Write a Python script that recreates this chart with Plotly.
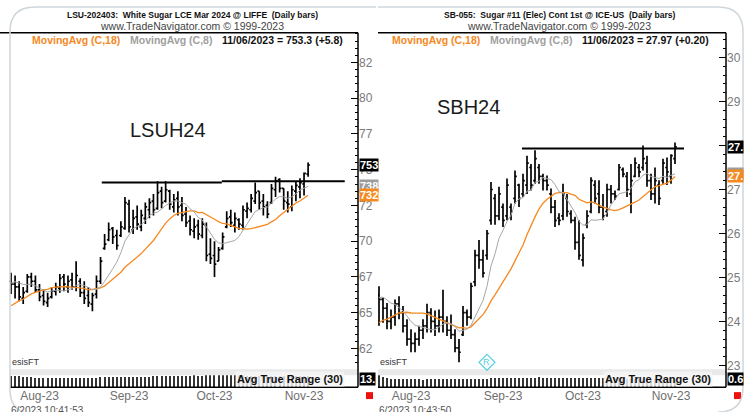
import numpy as np
import pandas as pd
import plotly.graph_objects as go

W, H = 751, 412
FONT = "Arial, 'Liberation Sans', sans-serif"
ORANGE = "#F5891F"
GRAYMA = "#A6A6A6"


def px(x):
    return x / W


def py(y):
    return 1 - y / H


# ---------------- LSU-202403 White Sugar (left panel) ----------------
lsu_dates = [d.strftime("%Y-%m-%d") for d in pd.bdate_range("2023-07-25", "2023-11-06")
             if d.strftime("%Y-%m-%d") not in ("2023-08-28",)]
lsu_open = [672, 670, 668, 660, 665, 675, 672, 666, 662, 657, 661, 665, 667, 675, 668, 673, 668, 672, 664, 662,
            656, 663, 672, 695, 701, 709, 704, 704, 709, 726, 708, 717, 710, 716, 722, 728, 723, 735, 728, 735,
            724, 730, 725, 719, 714, 707, 711, 704, 711, 691, 690, 686, 695, 710, 717, 711, 715, 711, 721, 722,
            728, 735, 728, 725, 727, 736, 743, 737, 727, 724, 735, 738, 740, 747]
lsu_high = [678, 676, 672, 668, 677, 678, 676, 670, 666, 664, 668, 671, 677, 677, 676, 678, 686, 674, 672, 668,
            664, 676, 689, 705, 713, 710, 708, 714, 731, 729, 722, 725, 722, 727, 730, 733, 742, 738, 742, 736,
            733, 735, 731, 724, 718, 716, 715, 716, 713, 702, 700, 696, 706, 721, 722, 720, 716, 725, 727, 733,
            741, 735, 733, 728, 740, 745, 744, 737, 735, 739, 742, 744, 748, 755]
lsu_low = [663, 660, 658, 656, 664, 668, 664, 658, 655, 654, 660, 662, 664, 665, 664, 666, 665, 661, 656, 654,
           651, 660, 670, 694, 700, 698, 694, 703, 708, 706, 705, 708, 707, 712, 716, 718, 722, 723, 727, 722,
           720, 718, 714, 710, 704, 702, 701, 702, 686, 684, 675, 686, 694, 709, 710, 706, 708, 708, 716, 720,
           726, 722, 718, 716, 726, 731, 734, 722, 720, 721, 728, 730, 732, 745]
lsu_close = [670, 668, 661, 664, 675, 672, 666, 661, 658, 660, 665, 668, 674, 670, 672, 668, 676, 664, 660, 657,
             662, 672, 686, 698, 708, 703, 697, 710, 727, 710, 716, 712, 718, 724, 727, 722, 734, 727, 736, 726,
             729, 724, 718, 713, 708, 710, 705, 712, 690, 688, 684, 694, 703, 716, 713, 716, 712, 722, 723, 730,
             734, 727, 724, 719, 737, 742, 737, 728, 726, 736, 739, 741, 747.5, 753.3]
lsu_prior_close = [632, 636, 640, 638, 644, 646, 642, 648, 652, 644, 660, 668, 672, 675, 670, 676, 674]
lsu_resist = [741.0, 741.9]
lsu_tickvals = [625, 650, 675, 700, 725, 750, 775, 800, 825]
lsu_ticktext = ["62", "65", "67", "70", "72", "75", "77", "80", "82"]
lsu_atr_label = "13."

# ---------------- SB-055 Sugar #11 (right panel) ----------------
sb_dates = [d.strftime("%Y-%m-%d") for d in pd.bdate_range("2023-07-24", "2023-11-06")
            if d.strftime("%Y-%m-%d") not in ("2023-09-04",)]
sb_open = [24.6, 24.5, 24.3, 24.0, 24.1, 24.4, 24.2, 23.9, 23.6, 23.5, 23.6, 23.8, 23.9, 24.2, 24.0, 23.9, 24.1,
           24.0, 23.8, 23.7, 23.4, 23.7, 24.2, 24.1, 24.9, 25.5, 25.4, 25.5, 26.3, 26.8, 26.4, 26.6, 26.4, 26.6,
           26.8, 27.1, 26.9, 27.1, 27.5, 27.2, 27.5, 27.3, 27.2, 26.9, 26.6, 26.35, 26.4, 26.8, 26.45, 26.3, 25.8,
           25.4, 26.2, 26.5, 27.1, 26.9, 26.6, 26.5, 27.0, 26.9, 27.0, 27.45, 27.3, 26.9, 27.3, 27.5, 27.5, 27.6,
           27.2, 26.9, 27.1, 27.2, 27.5, 27.3, 27.7]
sb_high = [24.8, 24.54, 24.42, 24.27, 24.5, 24.57, 24.35, 24.05, 23.82, 23.75, 23.9, 24.05, 24.4, 24.3, 24.25,
           24.27, 24.72, 24.12, 24.16, 23.82, 23.6, 24.35, 24.27, 24.88, 25.63, 25.85, 25.63, 26.08, 27.17, 26.9,
           27.06, 26.68, 27.25, 26.68, 27.43, 27.13, 27.36, 27.77, 27.58, 27.89, 27.58, 27.36, 27.32, 27.02, 26.76,
           26.46, 27.13, 26.9, 26.53, 26.38, 26.3, 26.0, 26.53, 27.28, 27.21, 27.21, 26.9, 27.13, 27.1, 26.98,
           27.58, 27.5, 27.4, 27.58, 27.73, 27.58, 28.0, 27.77, 27.36, 27.5, 27.21, 27.7, 27.73, 27.8, 28.07]
sb_low = [23.9, 23.97, 23.82, 23.82, 23.9, 24.05, 23.75, 23.45, 23.3, 23.3, 23.45, 23.6, 23.75, 23.75, 23.67,
          23.75, 23.75, 23.67, 23.6, 23.3, 23.07, 23.67, 23.9, 24.05, 24.8, 25.2, 25.0, 25.4, 26.2, 26.2, 26.3,
          26.15, 26.3, 26.3, 26.68, 26.6, 26.83, 26.9, 26.98, 27.13, 27.13, 26.98, 26.98, 26.46, 26.15, 26.19,
          26.3, 26.38, 26.23, 25.63, 25.4, 25.25, 26.12, 26.46, 26.68, 26.46, 26.3, 26.38, 26.68, 26.76, 26.98,
          27.28, 26.83, 26.46, 27.28, 27.28, 27.43, 27.06, 26.76, 26.68, 26.65, 27.13, 27.1, 27.13, 27.58]
sb_close = [24.5, 24.3, 24.0, 24.1, 24.4, 24.2, 23.9, 23.6, 23.5, 23.6, 23.8, 23.9, 24.2, 24.0, 23.9, 24.1, 24.0,
            23.8, 23.7, 23.4, 23.3, 24.2, 24.1, 24.8, 25.5, 25.4, 25.1, 26.0, 27.0, 26.4, 26.9, 26.3, 27.1, 26.5,
            27.3, 26.8, 27.2, 27.6, 27.1, 27.7, 27.3, 27.2, 27.1, 26.6, 26.3, 26.3, 26.9, 26.5, 26.3, 25.8, 25.5,
            25.9, 26.4, 27.2, 26.8, 26.6, 26.4, 27.0, 26.9, 26.85, 27.5, 27.35, 27.0, 27.2, 27.6, 27.4, 27.7, 27.2,
            26.9, 27.2, 26.8, 27.6, 27.4, 27.77, 27.97]
sb_prior_close = [23.3, 23.5, 23.2, 23.6, 23.4, 23.7, 23.5, 23.8, 23.6, 23.54, 24.2, 24.5, 24.7, 24.6, 24.8,
                  24.5, 24.52]
sb_resist = [27.93]
sb_tickvals = [23, 24, 25, 26, 27, 28, 29, 30]
sb_ticktext = ["23", "24", "25", "26", "27", "28", "29", "30"]
sb_atr_label = "0.6"


def moving_avg(prior, close, n):
    s = pd.Series(list(prior) + list(close)).rolling(n).mean().values
    return s[len(prior):]


def avg_true_range(h, l, c, n=30):
    h, l, c = np.asarray(h, float), np.asarray(l, float), np.asarray(c, float)
    pc = np.r_[c[0], c[:-1]]
    tr = np.maximum(h - l, np.maximum(np.abs(h - pc), np.abs(l - pc)))
    return pd.Series(tr).rolling(n, min_periods=1).mean().values


def month_ticks(dates):
    vals, txt = [], []
    prev = None
    for i, d in enumerate(dates):
        m = d[:7]
        if m != prev and prev is not None:
            vals.append(i + 2)
            txt.append(pd.Timestamp(d).strftime("%b-%y"))
        prev = m
    return vals, txt


fig = go.Figure()
annotations = []
shapes = []


def line_shape(x0, y0, x1, y1, color="black", width=1.5):
    shapes.append(dict(type="line", xref="paper", yref="paper", x0=px(x0), y0=py(y0), x1=px(x1), y1=py(y1),
                       line=dict(color=color, width=width)))


def text(x, y, s, size=10, color="#222", bold=False, xanchor="center", yanchor="middle", **kw):
    if bold:
        s = "<b>" + s + "</b>"
    annotations.append(dict(x=px(x), y=py(y), xref="paper", yref="paper", text=s, showarrow=False,
                            xanchor=xanchor, yanchor=yanchor, font=dict(size=size, color=color, family=FONT), **kw))


panels = [
    dict(name="LSU", dates=lsu_dates, o=lsu_open, h=lsu_high, l=lsu_low, c=lsu_close, prior=lsu_prior_close,
         xa="x", ya="y", xa2="x2", ya2="y2", left=0, left_inner=10, right=358, x0px=11, step=4.07,
         yr=(610.4, 845.8), tv=lsu_tickvals, tt=lsu_ticktext, minor=5, resist=lsu_resist,
         resist_x=[(22.3, 51.8), (51.8, 82.0)], atr_label=lsu_atr_label,
         title="LSU-202403:  White Sugar LCE Mar 2024 @ LIFFE  (Daily bars)", tcx=192,
         big="LSUH24", bigx=168, bigy=131, legx=(30, 128, 220), fmt="{:.1f}", chg="{:+.1f}"),
    dict(name="SB", dates=sb_dates, o=sb_open, h=sb_high, l=sb_low, c=sb_close, prior=sb_prior_close,
         xa="x3", ya="y3", xa2="x4", ya2="y4", left=378, left_inner=378, right=726, x0px=379, step=4.0,
         yr=(22.912, 30.564), tv=sb_tickvals, tt=sb_ticktext, minor=0.2, resist=sb_resist,
         resist_x=[(35.75, 76.25)], atr_label=sb_atr_label,
         title="SB-055:  Sugar #11 (Elec) Cont 1st @ ICE-US  (Daily bars)", tcx=559,
         big="SBH24", bigx=468, bigy=108, legx=(390, 488, 580), fmt="{:.2f}", chg="{:+.2f}"),
]

layout_axes = {}
for k, p in enumerate(panels):
    n = len(p["c"])
    assert len(p["dates"]) == n == len(p["o"]) == len(p["h"]) == len(p["l"])
    idx = list(range(n))
    ma18 = moving_avg(p["prior"], p["c"], 18)
    ma8 = moving_avg(p["prior"], p["c"], 8)
    atr = avg_true_range(p["h"], p["l"], p["c"], 30)

    fig.add_trace(go.Ohlc(x=idx, open=p["o"], high=p["h"], low=p["l"], close=p["c"], text=p["dates"],
                          xaxis=p["xa"], yaxis=p["ya"], tickwidth=0.45,
                          increasing=dict(line=dict(color="black", width=1.7)),
                          decreasing=dict(line=dict(color="black", width=1.7)), hoverinfo="text+y"))
    fig.add_trace(go.Scatter(x=idx, y=ma18, mode="lines", line=dict(color=ORANGE, width=1.3),
                             xaxis=p["xa"], yaxis=p["ya"], hoverinfo="skip"))
    fig.add_trace(go.Scatter(x=idx, y=ma8, mode="lines", line=dict(color=GRAYMA, width=1.0),
                             xaxis=p["xa"], yaxis=p["ya"], hoverinfo="skip"))
    for (xa0, xa1), yv in zip(p["resist_x"], p["resist"]):
        fig.add_trace(go.Scatter(x=[xa0, xa1], y=[yv, yv], mode="lines", line=dict(color="black", width=2),
                                 xaxis=p["xa"], yaxis=p["ya"], hoverinfo="skip"))
    fig.add_trace(go.Bar(x=idx, y=atr, width=0.28, marker=dict(color="#333", line=dict(width=0)),
                         xaxis=p["xa2"], yaxis=p["ya2"], hoverinfo="skip"))

    # axes
    xr = ((p["left"] - p["x0px"]) / p["step"], (p["right"] - p["x0px"]) / p["step"])
    dom = [px(p["left"]), px(p["right"])]
    tvals, ttxt = month_ticks(p["dates"])
    xn = p["xa"].replace("x", "xaxis")
    xn2 = p["xa2"].replace("x", "xaxis")
    yn = p["ya"].replace("y", "yaxis")
    yn2 = p["ya2"].replace("y", "yaxis")
    layout_axes[xn] = dict(domain=dom, range=list(xr), anchor=p["ya"], showticklabels=False, showgrid=False,
                           zeroline=False, showline=False, ticks="", rangeslider=dict(visible=False),
                           fixedrange=True)
    layout_axes[xn2] = dict(domain=dom, range=list(xr), anchor=p["ya2"], showgrid=False, zeroline=False,
                            showline=False, ticks="", tickmode="array", tickvals=tvals, ticktext=ttxt,
                            tickfont=dict(size=12, color="#6f6f6f", family=FONT), fixedrange=True)
    layout_axes[yn] = dict(domain=[py(372), py(33)], range=list(p["yr"]), anchor=p["xa"], side="right",
                           tickmode="array", tickvals=p["tv"], ticktext=p["tt"], ticks="inside", ticklen=7,
                           tickwidth=1, tickcolor="black",
                           minor=dict(tickmode="linear", tick0=0, dtick=p["minor"], ticks="inside", ticklen=3,
                                      tickwidth=1, tickcolor="black"),
                           showgrid=False, zeroline=False, showline=False,
                           tickfont=dict(size=12, color="#7a7a7a", family=FONT), fixedrange=True)
    layout_axes[yn2] = dict(domain=[py(390), py(378)], range=[0, float(np.max(atr))], anchor=p["xa2"],
                            side="right", showticklabels=False, showgrid=False, zeroline=False, showline=False,
                            ticks="", fixedrange=True)

    L, R = p["left"], p["right"]
    # pane separator band
    shapes.append(dict(type="rect", xref="paper", yref="paper", x0=px(p["left_inner"]), x1=px(R),
                       y0=py(378), y1=py(372), fillcolor="#e9e9e9", line=dict(width=0), layer="below"))
    # frame
    line_shape(L, 33, R, 33)
    line_shape(R, 33, R, 390)
    line_shape(p["left_inner"], 390, R, 390)

    # titles
    text(p["tcx"], 15, p["title"], size=8.5, color="#111", bold=True)
    text(p["tcx"], 26, "www.TradeNavigator.com © 1999-2023", size=10.5, color="#444")
    last_date = pd.Timestamp(p["dates"][-1]).strftime("%m/%d/%Y")
    chg = p["c"][-1] - p["c"][-2]
    text(p["legx"][0], 40, "MovingAvg (C,18)", size=10.5, color=ORANGE, bold=True, xanchor="left")
    text(p["legx"][1], 40, "MovingAvg (C,8)", size=10.5, color="#a0a0a0", bold=True, xanchor="left")
    text(p["legx"][2], 40, f"{last_date} = " + p["fmt"].format(p["c"][-1]) + " (" + p["chg"].format(chg) + ")",
         size=10.5, color="#111", bold=True, xanchor="left")
    text(p["bigx"], p["bigy"], p["big"], size=20, color="#1a1a1a")

    # value boxes on axis
    for val, bg in ((ma8[-1], "#9c9c9c"), (ma18[-1], ORANGE), (p["c"][-1], "black")):
        annotations.append(dict(x=px(R + 1), y=val, xref="paper", yref=p["ya"], xanchor="left", yanchor="middle",
                                text="<b>" + f"{val:.2f}"[:3] + "</b>", showarrow=False, bgcolor=bg,
                                borderpad=0, font=dict(size=11, color="white", family=FONT)))
    text(R + 1, 382, "<b>" + p["atr_label"] + "</b>", size=11, color="white", xanchor="left", bgcolor="black",
         borderpad=0)
    text(R - 13, 382, "Avg True Range (30)", size=11, color="#111", bold=True, xanchor="right",
         bgcolor="rgba(245,245,245,0.85)")
    text(p["left_inner"], 365, "esisFT", size=9, color="#333", xanchor="left")
    # red marker square
    shapes.append(dict(type="rect", xref="paper", yref="paper", x0=px(R + 8), x1=px(R + 15),
                       y0=py(402), y1=py(395), fillcolor="#ee1111", line=dict(width=0)))

# timestamps at bottom (cut by the window edge)
text(9, 406, "6/2023 10:41:53", size=10, color="#555", xanchor="left", yanchor="top")
text(377, 406, "6/2023 10:43:50", size=10, color="#555", xanchor="left", yanchor="top")

# cyan registered diamond
cx, cy, r = 487, 365, 8
shapes.append(dict(type="path", xref="paper", yref="paper",
                   path=f"M {px(cx)} {py(cy - r)} L {px(cx + r)} {py(cy)} L {px(cx)} {py(cy + r)} "
                        f"L {px(cx - r)} {py(cy)} Z",
                   line=dict(color="#55d0de", width=1.2)))
text(cx, cy, "R", size=9, color="#55d0de")


# rounded card borders
def pth(pts):
    out = []
    for cmd, *xy in pts:
        coords = " ".join(f"{px(xy[i])} {py(xy[i + 1])}" for i in range(0, len(xy), 2))
        out.append(f"{cmd} {coords}")
    return " ".join(out)


shapes.append(dict(type="path", xref="paper", yref="paper", line=dict(color="#cfd6db", width=1.5),
                   path=pth([("M", 376, 7), ("L", 35, 7), ("Q", 10, 7, 10, 32), ("L", 10, 392),
                             ("Q", 10, 417, 35, 417)])))
shapes.append(dict(type="path", xref="paper", yref="paper", line=dict(color="#cfd6db", width=1.5),
                   path=pth([("M", 378, 7), ("L", 718, 7), ("Q", 743, 7, 743, 32), ("L", 743, 390),
                             ("Q", 743, 415, 718, 415)])))

fig.update_layout(width=W, height=H, margin=dict(l=0, r=0, t=0, b=0), paper_bgcolor="white",
                  plot_bgcolor="white", showlegend=False, annotations=annotations, shapes=shapes,
                  font=dict(family=FONT), bargap=0, **layout_axes)

fig.write_html("out.html", config={"displayModeBar": False},
               post_script="document.body.style.margin='0';document.body.style.overflow='hidden';")
